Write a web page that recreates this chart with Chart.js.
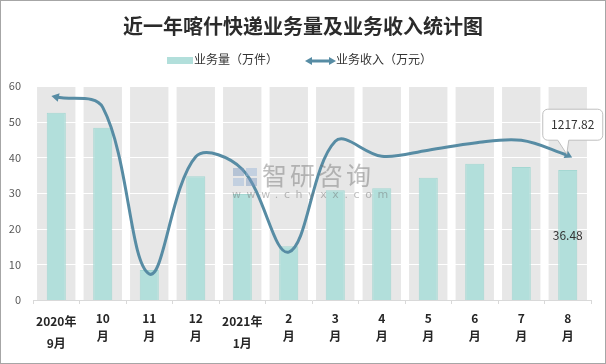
<!DOCTYPE html>
<html>
<head>
<meta charset="utf-8">
<script src="https://cdn.jsdelivr.net/npm/chart.js@4.4.1/dist/chart.umd.min.js"></script>
<style>
  html, body { margin: 0; padding: 0; background: #fff; }
  #wrap { position: relative; width: 606px; height: 364px; overflow: hidden; }
  #frame { position: absolute; left: 0; top: 0; width: 606px; height: 364px; box-sizing: border-box; border: 1px solid #a6a6a6; pointer-events: none; }
  #title { position: absolute; left: 0; width: 606px; top: 11px; line-height: 24px; text-align: center;
           font: bold 20px "Noto Sans CJK SC", sans-serif; color: #2b2b2b; }
  .leg { position: absolute; top: 50px; line-height: 16px; font: 12px "Noto Sans CJK SC", sans-serif; color: #333; }
  #mark { position: absolute; left: 262px; top: 160px; color: rgba(110,110,110,0.45); pointer-events: none; }
  #mark .big { font: 25px "Noto Sans CJK SC", sans-serif; letter-spacing: 3px; line-height: 28px; }
  #mark .url { position: absolute; left: -30px; top: 28px; font: 11px "DejaVu Sans", sans-serif; letter-spacing: 5.6px; white-space: nowrap; }
  #logo { position: absolute; left: 233px; top: 168px; width: 24px; height: 18px; pointer-events: none; }
</style>
</head>
<body>
<div id="wrap">
  <canvas id="c" width="606" height="364"></canvas>
  <div id="title">近一年喀什快递业务量及业务收入统计图</div>
  <div class="leg" style="left:167px;"><span style="display:inline-block;width:26px;height:7px;background:#b2dfdb;vertical-align:middle;margin-right:1px;"></span>业务量（万件）</div>
  <div class="leg" style="left:305px;"><svg width="31" height="10" style="vertical-align:middle;"><line x1="5" y1="5" x2="26" y2="5" stroke="#578ca4" stroke-width="3"/><polygon points="0,5 7,1 7,9" fill="#578ca4"/><polygon points="31,5 24,1 24,9" fill="#578ca4"/></svg>业务收入（万元）</div>
  <svg id="logo" viewBox="0 0 24 18"><rect x="0" y="0" width="11" height="8" fill="rgba(120,150,190,0.45)"/><rect x="13" y="0" width="11" height="8" fill="rgba(150,180,215,0.45)"/><rect x="0" y="10" width="11" height="8" fill="rgba(150,180,215,0.45)"/><rect x="13" y="10" width="11" height="8" fill="rgba(120,150,190,0.45)"/></svg>
  <div id="mark"><div class="big">智研咨询</div><div class="url">www.chyxx.com</div></div>
  <div id="frame"></div>
</div>
<script>
// data
const months = [["2020年", "9月"], ["10", "月"], ["11", "月"], ["12", "月"], ["2021年", "1月"], ["2", "月"],
                ["3", "月"], ["4", "月"], ["5", "月"], ["6", "月"], ["7", "月"], ["8", "月"]];
const volume = [52.5, 48.3, 8.4, 34.7, 29.7, 15.1, 30.8, 31.3, 34.3, 38.2, 37.3, 36.48];   // 业务量（万件）
const revenue = [1707, 1620, 219, 1205, 1100, 403, 1335, 1209, 1260, 1321, 1344, 1217.82]; // 业务收入（万元）
const bands = [60, 60, 60, 60, 60, 60, 60, 60, 60, 60, 60, 60]; // grey column background

const lineColor = "#578ca4";
const lastIdx = revenue.length - 1;

// white horizontal grid lines painted over the grey bands only
const bandGrid = {
  id: "bandGrid",
  afterDatasetDraw(chart, args) {
    if (args.index !== 2) return;
    const { ctx, chartArea, scales } = chart;
    ctx.save();
    ctx.strokeStyle = "#ffffff";
    ctx.lineWidth = 1;
    scales.y.ticks.forEach(t => {
      if (t.value === 0) return;
      const y = Math.round(scales.y.getPixelForValue(t.value)) + 0.5;
      ctx.beginPath();
      ctx.moveTo(chartArea.left, y);
      ctx.lineTo(chartArea.right, y);
      ctx.stroke();
    });
    ctx.restore();
  }
};

// value labels: last bar and the callout for the last line point
const labels = {
  id: "labels",
  afterDatasetsDraw(chart) {
    const ctx = chart.ctx;
    const bar = chart.getDatasetMeta(1).data[lastIdx];
    const pt = chart.getDatasetMeta(0).data[lastIdx];
    ctx.save();
    ctx.font = '12px "Noto Sans CJK SC", sans-serif';
    ctx.fillStyle = "#333";
    ctx.textAlign = "center";
    ctx.textBaseline = "middle";
    ctx.fillText(String(volume[lastIdx]), bar.x, (bar.y + bar.base) / 2);

    const l = pt.x - 25, r = pt.x + 35, t = pt.y - 46, b = pt.y - 15, rad = 5;
    ctx.beginPath();
    ctx.moveTo(l + rad, t);
    ctx.lineTo(r - rad, t);
    ctx.arcTo(r, t, r, t + rad, rad);
    ctx.lineTo(r, b - rad);
    ctx.arcTo(r, b, r - rad, b, rad);
    ctx.lineTo(pt.x + 1, b);
    ctx.lineTo(pt.x - 1, pt.y - 1);
    ctx.lineTo(pt.x - 10, b);
    ctx.lineTo(l + rad, b);
    ctx.arcTo(l, b, l, b - rad, rad);
    ctx.lineTo(l, t + rad);
    ctx.arcTo(l, t, l + rad, t, rad);
    ctx.closePath();
    ctx.fillStyle = "#fff";
    ctx.fill();
    ctx.strokeStyle = "#bfbfbf";
    ctx.lineWidth = 1;
    ctx.stroke();
    ctx.fillStyle = "#333";
    ctx.fillText(revenue[lastIdx].toFixed(2), (l + r) / 2, (t + b) / 2);
    ctx.restore();
  }
};

new Chart(document.getElementById("c"), {
  type: "bar",
  data: {
    labels: months,
    datasets: [
      {
        type: "line",
        label: "业务收入（万元）",
        data: revenue,
        yAxisID: "y1",
        borderColor: lineColor,
        backgroundColor: lineColor,
        borderWidth: 3,
        tension: 0.36,
        pointStyle: "triangle",
        pointRadius: ctx => (ctx.dataIndex === 0 || ctx.dataIndex === lastIdx) ? 5 : 0,
        pointRotation: ctx => ctx.dataIndex === 0 ? 282 : 117,
        pointBorderWidth: 0,
        order: 0
      },
      {
        label: "业务量（万件）",
        data: volume,
        backgroundColor: "#b2dfdb",
        borderColor: "#a4d7d2",
        borderWidth: 1,
        barPercentage: 0.41,
        categoryPercentage: 1,
        grouped: false,
        order: 1
      },
      {
        label: "band",
        data: bands,
        backgroundColor: "#e7e7e7",
        borderWidth: 0,
        barPercentage: 0.825,
        categoryPercentage: 1,
        grouped: false,
        order: 2
      }
    ]
  },
  options: {
    responsive: false,
    animation: false,
    events: [],
    layout: { padding: { top: 86, right: 15, left: 0, bottom: 0 } },
    plugins: { legend: { display: false }, title: { display: false }, tooltip: { enabled: false } },
    scales: {
      x: {
        grid: { display: true, drawOnChartArea: false, drawTicks: true, tickLength: 4, color: "#d9d9d9", offset: true },
        border: { display: true, color: "#d9d9d9" },
        ticks: {
          padding: 6,
          maxRotation: 0,
          autoSkip: false,
          color: "#262626",
          font: ctx => ({
            family: "Noto Sans CJK SC",
            size: 12,
            weight: "bold",
            lineHeight: (ctx.index === 0 || ctx.index === 4) ? "22px" : "17.7px"
          })
        },
        afterFit: s => { s.height = 64; }
      },
      y: {
        min: 0,
        max: 60,
        ticks: { stepSize: 10, padding: 12, color: "#595959", font: { family: "Noto Sans CJK SC", size: 11 } },
        grid: { display: false, drawTicks: false },
        border: { display: false },
        afterFit: s => { s.width = 33; }
      },
      y1: { display: false, min: 0, max: 1800 }
    }
  },
  plugins: [bandGrid, labels]
});
</script>
</body>
</html>
